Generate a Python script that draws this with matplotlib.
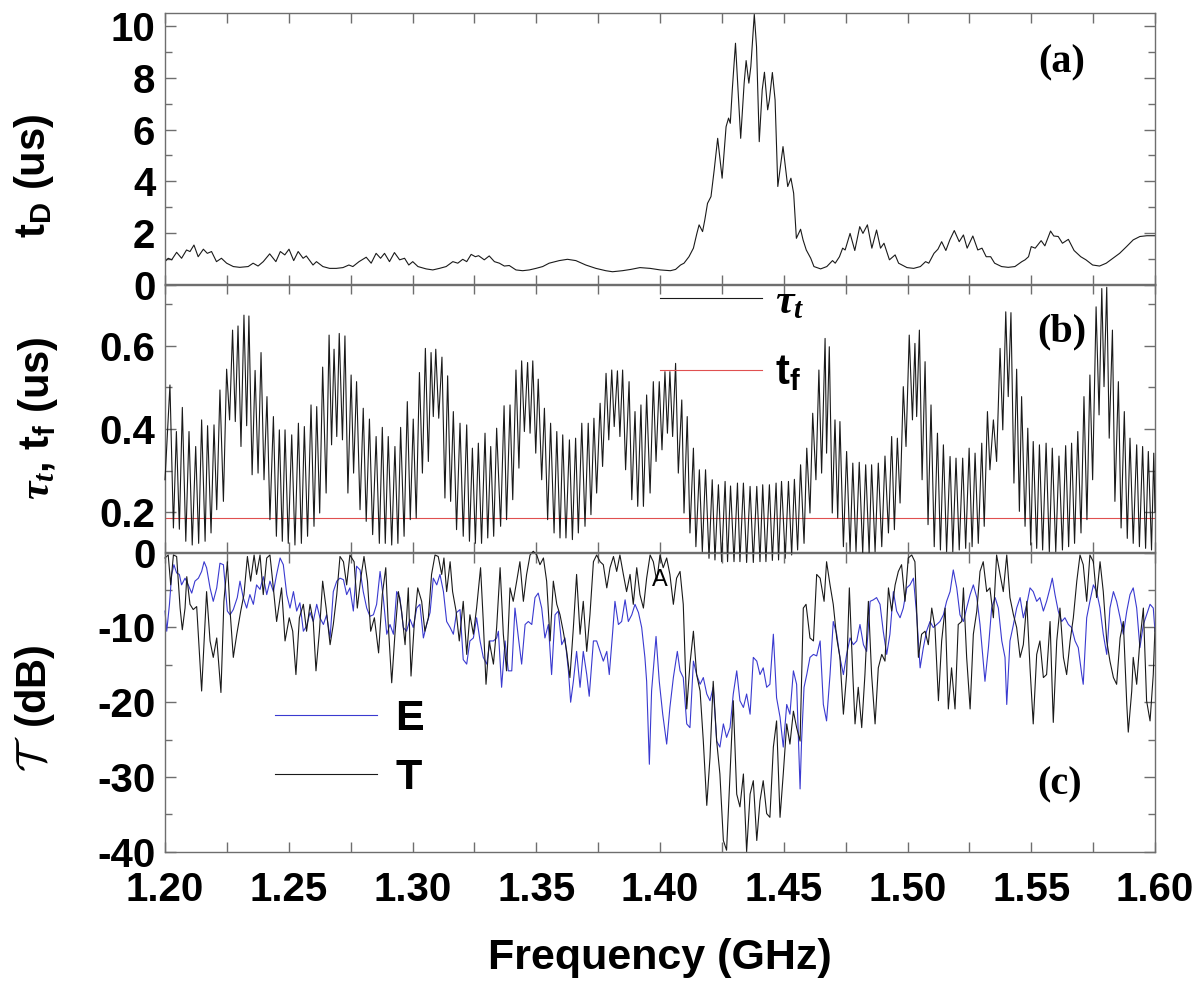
import matplotlib
matplotlib.use("Agg")
import matplotlib.pyplot as plt
from matplotlib.ticker import MultipleLocator, FixedLocator, FormatStrFormatter

# ---------------- data ----------------
freq_ticks = [1.20, 1.25, 1.30, 1.35, 1.40, 1.45, 1.50, 1.55, 1.60]

# panel (a): delay time t_D (us)
td_freq = [1.2000,1.2013,1.2027,1.2047,1.2067,1.2087,1.2101,1.2117,1.2134,1.2155,
    1.2171,1.2188,1.2208,1.2228,1.2249,1.2276,1.2302,1.2336,1.2356,1.2376,
    1.2397,1.2423,1.2448,1.2466,1.2484,1.2501,1.2520,1.2538,1.2558,1.2571,
    1.2598,1.2612,1.2638,1.2665,1.2692,1.2719,1.2743,1.2759,1.2784,1.2813,
    1.2833,1.2853,1.2871,1.2887,1.2907,1.2927,1.2948,1.2968,1.2985,1.3001,
    1.3022,1.3055,1.3082,1.3109,1.3136,1.3163,1.3183,1.3203,1.3219,1.3237,
    1.3254,1.3267,1.3290,1.3310,1.3331,1.3351,1.3371,1.3391,1.3418,1.3445,
    1.3472,1.3499,1.3526,1.3552,1.3593,1.3626,1.3660,1.3700,1.3741,1.3781,
    1.3808,1.3848,1.3882,
    1.3919,1.3960,1.4001,1.4042,1.4063,1.4083,1.4097,1.4117,1.4135,1.4149,
    1.4158,1.4172,1.4181,1.4192,1.4206,1.4219,1.4233,1.4251,1.4267,1.4277,
    1.4284,1.4292,1.4305,1.4326,1.4340,1.4348,1.4359,1.4367,1.4381,1.4390,
    1.4401,1.4413,1.4422,1.4435,1.4442,1.4454,1.4465,1.4476,1.4497,1.4516,
    1.4529,1.4540,1.4551,1.4568,1.4578,1.4591,1.4609,1.4622,1.4649,1.4674,
    1.4697,1.4708,1.4725,1.4738,1.4748,1.4768,1.4787,1.4807,1.4820,1.4838,
    1.4856,1.4875,1.4891,1.4905,1.4927,1.4950,1.4964,1.4998,1.5025,1.5052,
    1.5073,1.5086,1.5107,1.5123,1.5138,1.5155,1.5171,1.5189,1.5209,1.5226,
    1.5241,1.5264,1.5284,1.5301,1.5318,1.5336,1.5352,1.5380,1.5407,1.5434,
    1.5462,1.5475,1.5489,1.5500,1.5516,1.5540,1.5555,1.5578,1.5591,1.5609,
    1.5626,1.5650,1.5673,1.5700,1.5721,1.5748,1.5776,1.5803,1.5830,1.5857,
    1.5885,1.5912,1.5939,1.5967,1.5985,1.6000]
td_val = [0.90,1.03,0.97,1.26,1.03,1.35,1.29,1.54,1.09,1.38,
    1.22,1.29,0.90,1.03,0.84,0.71,0.68,0.71,0.84,0.73,
    0.90,1.20,0.90,1.29,1.16,1.38,0.94,1.29,1.03,1.12,
    0.77,0.90,0.71,0.64,0.64,0.67,0.77,0.71,0.90,1.07,
    0.84,1.22,1.03,1.22,0.90,1.25,0.97,1.03,0.77,0.90,
    0.71,0.62,0.58,0.64,0.71,0.90,0.84,0.99,0.90,1.18,
    1.09,1.13,0.97,1.12,0.90,0.84,0.73,0.75,0.58,0.55,
    0.58,0.64,0.71,0.84,0.94,0.99,0.94,0.77,0.64,0.55,
    0.51,0.55,0.60,
    0.67,0.64,0.58,0.55,0.60,0.77,0.84,1.09,1.42,1.99,
    2.32,2.06,2.51,3.15,3.41,4.44,5.66,4.12,6.11,6.44,
    6.24,7.53,9.33,5.66,7.79,8.66,7.79,8.43,10.45,9.20,
    5.53,7.53,8.21,6.76,7.14,8.20,7.14,3.80,5.34,3.80,
    4.12,3.54,1.80,2.15,1.74,1.35,1.03,0.71,0.62,0.71,
    0.94,0.84,1.09,1.42,1.35,1.99,1.33,2.25,1.99,2.32,
    1.42,2.12,1.42,1.61,0.97,1.16,0.84,0.67,0.64,0.71,
    0.90,0.84,1.22,1.38,1.67,1.33,1.74,2.10,1.67,1.93,
    1.42,1.89,1.35,1.42,1.09,1.09,0.84,0.71,0.68,0.71,
    0.90,0.97,1.09,1.48,1.42,1.71,1.51,2.08,1.89,1.87,
    1.61,1.76,1.33,1.09,0.97,0.77,0.73,0.84,1.03,1.22,
    1.48,1.74,1.87,1.90,1.90,1.90]

# panel (b): tau_t (us)
tau_freq = [1.2000,1.2020,1.2034,1.2046,1.2058,1.2070,1.2084,1.2097,1.2110,1.2124,
    1.2136,1.2148,1.2162,1.2172,1.2186,1.2198,1.2209,1.2222,1.2236,1.2249,
    1.2261,1.2273,1.2284,1.2295,1.2307,1.2319,1.2330,1.2339,1.2352,1.2364,
    1.2376,1.2388,1.2400,1.2412,1.2424,1.2438,1.2450,1.2462,1.2474,1.2485,
    1.2498,1.2512,1.2525,1.2539,1.2551,1.2563,1.2576,1.2590,1.2602,1.2613,
    1.2625,1.2637,1.2651,1.2663,1.2673,1.2683,1.2694,1.2704,1.2717,1.2727,
    1.2739,1.2752,1.2762,1.2774,1.2788,1.2801,1.2813,1.2826,1.2839,1.2853,
    1.2866,1.2878,1.2890,1.2902,1.2916,1.2929,1.2941,1.2952,1.2966,1.2979,
    1.2991,1.3003,1.3015,1.3028,1.3040,1.3052,1.3064,1.3075,1.3084,1.3094,
    1.3106,1.3119,1.3131,1.3142,1.3154,1.3165,1.3178,1.3192,1.3205,1.3219,
    1.3230,1.3242,1.3254,1.3266,1.3279,1.3293,1.3304,1.3316,1.3328,1.3340,
    1.3356,1.3370,1.3380,1.3394,1.3405,1.3418,1.3430,1.3441,1.3452,1.3465,
    1.3475,1.3486,1.3498,1.3508,1.3522,1.3533,1.3546,1.3558,1.3572,1.3583,
    1.3596,1.3607,1.3620,1.3634,1.3646,1.3659,1.3670,1.3684,1.3697,1.3710,
    1.3721,1.3733,1.3744,1.3758,1.3768,1.3782,1.3793,1.3805,1.3815,1.3828,
    1.3838,1.3849,1.3861,1.3875,1.3886,1.3899,1.3910,1.3923,1.3933,1.3946,
    1.3960,1.3973,1.3984,1.3997,1.4008,1.4020,1.4030,1.4040,1.4051,1.4063,
    1.4074,1.4088,1.4097,1.4110,1.4121,1.4135,1.4145,1.4159,1.4171,1.4184,
    1.4198,1.4211,1.4222,1.4236,1.4249,1.4263,1.4273,1.4285,1.4299,1.4313,
    1.4323,1.4337,1.4350,1.4364,1.4377,1.4391,1.4404,1.4415,1.4428,1.4442,
    1.4454,1.4469,1.4479,1.4491,1.4506,1.4519,1.4532,1.4543,1.4556,1.4568,
    1.4582,1.4593,1.4606,1.4617,1.4630,1.4642,1.4653,1.4667,
    1.4673,1.4684,1.4696,1.4707,1.4718,1.4727,1.4741,1.4754,1.4768,1.4779,
    1.4792,1.4805,1.4819,1.4831,1.4845,1.4855,1.4869,1.4882,1.4896,1.4909,
    1.4923,1.4936,1.4947,1.4959,1.4970,1.4983,1.4994,1.5007,1.5020,1.5030,
    1.5037,1.5048,1.5059,1.5071,1.5083,1.5095,1.5108,1.5121,1.5133,1.5145,
    1.5158,1.5172,1.5183,1.5196,1.5209,1.5223,1.5235,1.5249,1.5261,1.5273,
    1.5286,1.5300,1.5310,1.5323,1.5333,1.5347,1.5360,1.5374,1.5385,1.5397,
    1.5407,1.5418,1.5430,1.5441,1.5452,1.5461,1.5475,1.5486,1.5498,1.5508,
    1.5522,1.5533,1.5546,1.5560,1.5573,1.5585,1.5599,1.5612,1.5626,1.5639,
    1.5651,1.5663,1.5675,1.5688,1.5701,1.5713,1.5725,1.5737,1.5748,1.5762,
    1.5774,1.5785,1.5794,1.5805,1.5815,1.5828,1.5838,1.5852,1.5863,1.5876,
    1.5888,1.5899,1.5912,1.5926,1.5937,1.5950,1.5962,1.5973,1.5986,1.5995,
    1.6000]
tau_val = [0.278,0.506,0.162,0.394,0.159,0.452,0.130,0.394,0.121,0.358,
    0.125,0.422,0.130,0.408,0.150,0.410,0.206,0.494,0.226,0.544,
    0.422,0.638,0.418,0.648,0.358,0.674,0.408,0.672,0.290,0.541,
    0.294,0.584,0.278,0.478,0.182,0.430,0.142,0.398,0.130,0.398,
    0.125,0.386,0.121,0.414,0.125,0.406,0.142,0.458,0.166,0.454,
    0.198,0.549,0.246,0.626,0.362,0.592,0.382,0.630,0.374,0.624,
    0.246,0.530,0.294,0.514,0.206,0.450,0.178,0.424,0.146,0.382,
    0.125,0.404,0.125,0.382,0.121,0.358,0.125,0.404,0.142,0.466,
    0.182,0.424,0.186,0.536,0.294,0.594,0.322,0.584,0.430,0.592,
    0.426,0.573,0.234,0.528,0.226,0.442,0.158,0.414,0.142,0.410,
    0.130,0.354,0.125,0.366,0.125,0.390,0.138,0.358,0.142,0.402,
    0.166,0.456,0.182,0.458,0.230,0.542,0.306,0.564,0.394,0.560,
    0.390,0.564,0.342,0.520,0.278,0.450,0.182,0.414,0.150,0.394,
    0.138,0.386,0.138,0.374,0.134,0.378,0.150,0.414,0.166,0.414,
    0.194,0.426,0.246,0.462,0.310,0.534,0.374,0.542,0.406,0.540,
    0.382,0.542,0.302,0.514,0.230,0.442,0.214,0.458,0.214,0.482,
    0.246,0.514,0.322,0.514,0.350,0.538,0.390,0.538,0.382,0.558,
    0.294,0.470,0.198,0.430,0.150,0.354,0.117,0.302,0.105,0.302,
    0.089,0.278,0.085,0.266,0.081,0.274,0.081,0.263,0.081,0.270,
    0.081,0.270,0.079,0.262,0.079,0.262,0.081,0.266,0.081,0.266,
    0.084,0.270,0.085,0.274,0.089,0.274,0.097,0.279,0.109,0.314,
    0.125,0.354,0.198,0.438,0.278,0.542,0.294,0.618,
    0.342,0.598,0.198,0.422,0.186,0.418,0.117,0.346,0.105,0.318,
    0.105,0.320,0.101,0.314,0.101,0.314,0.105,0.318,0.117,0.335,
    0.150,0.382,0.158,0.378,0.222,0.502,0.358,0.626,0.422,0.606,
    0.430,0.638,0.278,0.562,0.170,0.458,0.117,0.390,0.109,0.362,
    0.105,0.334,0.105,0.330,0.109,0.330,0.113,0.354,0.117,0.342,
    0.125,0.366,0.166,0.442,0.302,0.422,0.322,0.594,0.398,0.682,
    0.478,0.680,0.270,0.544,0.202,0.478,0.166,0.402,0.121,0.370,
    0.113,0.362,0.109,0.366,0.105,0.354,0.105,0.335,0.109,0.360,
    0.117,0.366,0.125,0.394,0.150,0.478,0.182,0.530,0.278,0.694,
    0.434,0.738,0.502,0.741,0.378,0.638,0.226,0.514,0.162,0.442,
    0.137,0.378,0.125,0.362,0.117,0.358,0.113,0.346,0.109,0.342,
    0.200]

# panel (b): t_f (us), constant level
tf_freq = [1.20, 1.60]
tf_val = [0.187, 0.187]

# panel (c): transmission T (dB), black
T_freq = [1.2000,1.2013,1.2023,1.2034,1.2047,1.2061,1.2070,1.2081,1.2088,1.2101,
    1.2114,1.2128,1.2148,1.2168,1.2182,1.2195,1.2209,1.2226,1.2238,1.2252,
    1.2263,1.2276,1.2290,1.2306,1.2319,1.2333,1.2346,1.2360,1.2370,1.2384,
    1.2397,1.2411,1.2424,1.2435,1.2451,1.2471,1.2485,1.2502,1.2516,1.2529,
    1.2543,1.2559,1.2572,1.2586,1.2599,1.2610,1.2624,1.2637,1.2651,1.2667,
    1.2680,1.2694,1.2707,1.2721,1.2734,1.2747,1.2764,1.2777,1.2791,1.2804,
    1.2818,1.2831,1.2846,1.2863,1.2878,1.2892,1.2902,1.2916,1.2929,1.2943,
    1.2956,1.2970,1.2983,1.2994,1.3007,1.3021,1.3037,1.3050,1.3064,1.3077,
    1.3091,1.3104,1.3118,1.3127,1.3138,1.3152,1.3162,1.3176,1.3189,1.3205,
    1.3219,1.3232,1.3246,1.3259,1.3275,1.3286,1.3297,1.3310,
    1.3327,1.3340,1.3354,1.3367,1.3380,1.3394,1.3407,1.3421,1.3434,1.3448,
    1.3461,1.3475,1.3488,1.3502,1.3515,1.3529,1.3542,1.3556,1.3569,1.3583,
    1.3596,1.3609,1.3623,1.3636,1.3650,1.3663,1.3677,1.3690,1.3704,1.3717,
    1.3731,1.3744,1.3758,1.3771,1.3785,1.3798,1.3812,1.3825,1.3838,1.3852,
    1.3865,1.3879,1.3892,1.3906,1.3919,1.3933,1.3946,1.3960,1.3973,1.3987,
    1.4000,1.4013,1.4027,1.4040,1.4054,1.4067,1.4081,1.4094,1.4108,1.4121,
    1.4135,1.4148,1.4162,1.4175,1.4189,1.4202,1.4215,1.4229,1.4242,1.4256,
    1.4269,1.4283,1.4296,1.4310,1.4323,1.4337,1.4350,1.4364,1.4377,1.4391,
    1.4404,1.4417,1.4431,1.4444,1.4458,1.4471,1.4485,1.4498,1.4512,1.4525,
    1.4539,1.4552,1.4566,
    1.4579,1.4590,1.4606,1.4620,1.4633,1.4647,1.4663,1.4673,1.4687,1.4700,
    1.4714,1.4727,1.4741,1.4754,1.4765,1.4779,1.4788,1.4801,1.4815,1.4828,
    1.4842,1.4855,1.4869,1.4882,1.4896,1.4909,1.4923,1.4936,1.4950,1.4963,
    1.4976,1.4990,1.5003,1.5017,1.5030,1.5044,1.5057,1.5071,1.5084,1.5098,
    1.5111,1.5125,1.5138,1.5152,1.5165,1.5178,1.5192,1.5205,1.5219,1.5226,
    1.5239,1.5253,1.5266,1.5280,1.5293,1.5306,1.5320,1.5333,1.5347,1.5360,
    1.5374,1.5387,1.5401,1.5414,1.5428,1.5441,1.5455,1.5468,1.5482,1.5495,
    1.5508,1.5522,1.5535,1.5549,1.5562,1.5576,1.5589,1.5603,1.5616,1.5630,
    1.5643,1.5657,1.5670,1.5684,1.5697,1.5710,1.5724,1.5737,1.5751,1.5764,
    1.5778,1.5791,1.5805,1.5818,1.5832,1.5845,1.5859,1.5872,1.5886,1.5892,
    1.5906,1.5912,1.5926,1.5939,1.5953,1.5966,1.5980,1.5993,1.6000]
T_val = [-0.7,-0.3,-4.3,-0.3,-0.5,-7.4,-10.3,-7.4,-3.2,-6.9,
    -7.6,-7.2,-18.5,-5.2,-11.8,-14.0,-11.4,-18.7,-6.5,-1.2,
    -7.8,-14.0,-10.9,-7.8,-5.6,-0.5,-3.8,-0.3,-2.9,-0.3,
    -5.6,-0.7,-0.3,-3.8,-9.2,-4.7,-11.8,-8.7,-10.5,-16.3,
    -8.7,-6.9,-10.5,-6.9,-9.2,-15.8,-10.5,-3.8,-7.4,-12.3,
    -9.6,-5.6,-0.5,-1.2,-4.3,-0.3,-1.2,-7.4,-3.4,-0.5,
    -3.8,-10.5,-8.7,-13.4,-5.6,-2.0,-9.6,-17.4,-10.9,-5.2,
    -7.8,-12.3,-4.7,-16.5,-9.6,-4.7,-6.5,-10.5,-8.7,-2.9,
    -0.3,-0.5,-2.9,-0.7,-5.2,-1.2,-5.2,-7.8,-11.8,-6.5,
    -13.6,-8.3,-10.9,-7.4,-2.0,-9.2,-17.6,-11.8,
    -14.9,-10.0,-2.0,-10.9,-15.8,-4.7,-6.5,-3.8,-1.2,-6.5,
    -2.9,-0.3,0.2,-0.3,-1.6,-0.7,-3.8,-11.8,-3.8,-6.9,
    -8.3,-10.5,-13.2,-16.7,-10.0,-2.9,-10.9,-6.5,-13.2,-8.3,
    -1.2,-0.3,-1.2,-1.6,-4.7,-2.0,-0.5,-2.5,-0.3,-2.9,
    -5.2,-2.9,-6.9,-2.0,-5.6,-7.4,-3.4,-0.3,-1.2,-3.8,
    -0.3,-2.0,-0.7,-2.9,-6.9,-3.4,-2.5,-6.9,-20.9,-14.9,
    -10.5,-16.3,-18.5,-25.2,-33.8,-27.4,-17.2,-25.2,-29.6,-38.5,
    -39.8,-29.6,-19.8,-32.3,-34.0,-29.6,-40.0,-32.3,-30.5,-38.5,
    -33.2,-30.5,-34.9,-35.4,-26.0,-22.5,-35.4,-29.6,-22.9,-25.6,
    -21.2,-23.4,-25.2,
    -7.4,-6.9,-11.4,-11.8,-2.9,-3.4,-6.5,-1.2,-4.3,-6.9,
    -11.4,-14.0,-21.6,-16.3,-4.7,-16.3,-22.9,-18.0,-23.4,-16.3,
    -6.5,-16.3,-22.9,-15.4,-13.6,-14.5,-4.7,-7.8,-4.3,-2.5,
    -1.6,-6.5,-0.7,-0.3,-1.2,-14.0,-10.9,-10.5,-12.3,-7.4,
    -10.0,-19.8,-11.8,-7.4,-20.9,-15.4,-20.9,-9.6,-9.2,-4.7,
    -14.0,-20.9,-10.9,-7.8,-2.5,-1.2,-5.2,-4.7,-8.7,-0.3,
    -2.9,-5.2,-0.3,-6.0,-8.3,-10.0,-14.0,-12.3,-6.5,-15.4,
    -22.9,-13.6,-11.8,-16.7,-16.3,-9.2,-22.7,-11.8,-7.4,-14.0,
    -16.3,-11.8,-8.7,-3.8,-0.3,-1.6,-6.5,-0.3,-1.2,-6.0,
    -1.2,-5.2,-11.8,-14.5,-16.7,-17.6,-11.4,-9.2,-20.3,-24.0,
    -18.5,-14.0,-17.6,-11.8,-7.4,-19.8,-22.5,-16.3,-10.0]

# panel (c): E (dB), blue
E_freq = [1.2000,1.2007,1.2018,1.2027,1.2036,1.2047,1.2058,1.2067,1.2081,1.2094,
    1.2108,1.2121,1.2135,1.2148,1.2158,1.2168,1.2182,1.2195,1.2209,1.2222,
    1.2236,1.2252,1.2263,1.2276,1.2292,1.2303,1.2316,1.2330,1.2343,1.2357,
    1.2370,1.2384,1.2397,1.2411,1.2424,1.2438,1.2451,1.2465,1.2478,1.2492,
    1.2505,1.2519,1.2532,1.2545,1.2559,1.2572,1.2586,1.2599,1.2613,1.2626,
    1.2640,1.2653,1.2667,1.2680,1.2694,1.2707,1.2721,1.2734,1.2747,1.2761,
    1.2774,1.2788,1.2801,1.2815,1.2828,1.2842,1.2855,1.2869,1.2882,1.2896,
    1.2909,1.2923,1.2936,1.2949,1.2963,1.2976,1.2990,1.3003,1.3017,1.3030,
    1.3044,1.3057,1.3071,1.3084,1.3098,1.3111,1.3125,1.3138,1.3152,1.3165,
    1.3178,1.3192,1.3205,1.3219,1.3232,1.3246,1.3259,1.3273,1.3286,1.3300,
    1.3313,
    1.3327,1.3340,1.3347,1.3360,1.3374,1.3387,1.3401,1.3414,1.3428,1.3441,
    1.3455,1.3468,1.3482,1.3495,1.3508,1.3522,1.3535,1.3549,1.3562,1.3576,
    1.3589,1.3603,1.3616,1.3630,1.3639,1.3650,1.3663,1.3677,1.3690,1.3704,
    1.3714,1.3731,1.3744,1.3758,1.3771,1.3785,1.3795,1.3809,1.3818,1.3832,
    1.3845,1.3859,1.3872,1.3886,1.3899,1.3913,1.3926,1.3939,1.3946,1.3957,
    1.3966,1.3984,1.3997,1.4011,1.4027,1.4040,1.4054,1.4070,1.4081,1.4094,
    1.4108,1.4121,1.4135,1.4148,1.4162,1.4175,1.4189,1.4202,1.4215,1.4229,
    1.4242,1.4256,1.4269,1.4283,1.4296,1.4310,1.4323,1.4337,1.4350,1.4364,
    1.4377,1.4391,1.4404,1.4417,1.4431,1.4444,1.4458,1.4471,1.4485,1.4498,
    1.4512,1.4525,1.4539,1.4552,1.4566,
    1.4572,1.4582,1.4593,1.4606,1.4620,1.4633,1.4647,1.4660,1.4673,1.4687,
    1.4700,1.4714,1.4727,1.4741,1.4754,1.4768,1.4781,1.4795,1.4808,1.4822,
    1.4835,1.4849,1.4862,1.4875,1.4889,1.4902,1.4916,1.4929,1.4943,1.4956,
    1.4970,1.4983,1.4997,1.5010,1.5024,1.5037,1.5051,1.5064,1.5077,1.5091,
    1.5104,1.5118,1.5131,1.5145,1.5158,1.5172,1.5185,1.5199,1.5212,1.5226,
    1.5239,1.5253,1.5266,1.5280,1.5293,1.5306,1.5313,1.5327,1.5340,1.5354,
    1.5367,1.5381,1.5394,1.5401,1.5414,1.5428,1.5441,1.5455,1.5468,1.5482,
    1.5495,1.5508,1.5522,1.5535,1.5549,1.5562,1.5576,1.5585,1.5596,1.5609,
    1.5623,1.5636,1.5650,1.5663,1.5677,1.5690,1.5704,1.5710,1.5724,1.5737,
    1.5751,1.5764,1.5778,1.5791,1.5805,1.5818,1.5832,1.5845,1.5859,1.5872,
    1.5886,1.5899,1.5912,1.5926,1.5939,1.5953,1.5966,1.5980,1.5993,1.6000]
E_val = [-7.8,-10.5,-6.9,-2.9,-1.6,-2.7,-2.9,-4.3,-3.4,-4.3,
    -5.4,-3.8,-3.4,-2.5,-1.2,-2.0,-4.7,-6.5,-4.7,-1.4,
    -1.6,-7.8,-8.3,-7.6,-6.0,-3.8,-6.0,-7.4,-5.6,-6.9,
    -4.3,-4.9,-3.2,-5.6,-3.8,-5.2,-2.9,-0.7,-1.6,-5.6,
    -7.4,-5.2,-7.8,-6.7,-10.5,-9.8,-8.0,-9.2,-6.9,-8.7,
    -9.6,-8.3,-11.4,-5.2,-3.8,-3.4,-3.6,-5.6,-4.7,-7.8,
    -1.8,-2.3,-5.2,-7.4,-8.5,-8.3,-6.9,-2.5,-6.0,-10.9,
    -9.6,-10.9,-5.2,-6.0,-10.0,-10.5,-8.9,-10.0,-7.4,-6.9,
    -11.4,-9.6,-8.0,-3.4,-4.3,-2.9,-5.2,-9.2,-10.0,-10.9,
    -8.0,-7.6,-14.3,-14.9,-11.8,-11.4,-8.7,-11.8,-14.0,-14.9,
    -11.8,
    -11.8,-11.4,-10.5,-18.0,-11.8,-15.8,-15.8,-7.4,-11.4,-14.9,
    -9.6,-9.2,-9.6,-6.0,-5.4,-7.4,-11.4,-9.6,-16.3,-8.3,
    -7.8,-12.3,-11.4,-15.8,-20.0,-17.2,-13.2,-18.0,-13.2,-16.3,
    -19.2,-11.8,-11.8,-13.2,-14.5,-13.2,-16.3,-10.5,-6.5,-9.6,
    -9.2,-6.3,-9.2,-8.3,-6.9,-8.0,-10.0,-14.0,-17.2,-28.3,
    -18.5,-11.2,-17.2,-21.6,-25.6,-20.7,-16.7,-13.2,-15.8,-16.7,
    -22.9,-23.4,-14.5,-16.3,-17.6,-16.7,-18.9,-19.8,-18.0,-25.2,
    -26.0,-22.9,-24.7,-23.4,-18.9,-15.8,-19.8,-20.7,-18.9,-21.6,
    -14.0,-14.5,-16.3,-15.4,-18.0,-17.6,-10.9,-19.4,-22.0,-26.0,
    -20.3,-21.6,-15.8,-17.6,-31.6,
    -25.2,-18.0,-16.3,-14.0,-13.6,-13.8,-11.8,-20.3,-22.5,-16.3,
    -9.2,-10.9,-14.0,-16.3,-13.6,-11.4,-12.3,-11.8,-9.6,-12.3,
    -13.2,-6.5,-6.3,-6.0,-6.9,-10.5,-13.6,-10.9,-5.2,-7.8,
    -8.7,-7.4,-4.7,-4.3,-3.4,-8.3,-15.4,-12.7,-10.5,-9.2,
    -10.0,-9.6,-9.2,-8.3,-6.5,-5.2,-2.3,-4.7,-8.3,-9.2,
    -7.4,-5.6,-4.3,-6.0,-9.6,-14.5,-17.2,-12.7,-7.4,-6.0,
    -7.4,-11.8,-14.0,-20.3,-11.8,-9.6,-7.4,-6.0,-8.7,-6.9,
    -4.7,-5.2,-6.5,-6.0,-7.8,-6.5,-4.7,-3.4,-5.6,-7.8,
    -9.2,-8.7,-9.6,-10.0,-11.8,-12.7,-16.3,-17.6,-8.7,-6.5,
    -4.3,-5.2,-7.4,-10.9,-13.6,-7.4,-5.2,-6.5,-8.7,-10.9,
    -7.8,-5.6,-4.7,-7.4,-12.7,-9.6,-8.3,-6.9,-7.4,-10.5]

# ---------------- style ----------------
plt.rcParams.update({
    'font.family': ['Liberation Sans', 'DejaVu Sans'],
    'font.weight': 'bold',
    'axes.unicode_minus': False,
    'mathtext.fontset': 'custom',
    'mathtext.rm': 'Liberation Sans',
    'mathtext.bf': 'Liberation Sans:bold',
    'mathtext.it': 'Liberation Serif:italic',
    'mathtext.sf': 'Liberation Sans',
})

FRAME = '#6e6e6e'
RED = '#e05050'
BLUE = '#3a3ad0'
TICK_FS = 29
LAB_FS = 30

fig = plt.figure(figsize=(12, 9.86), dpi=100)
fig.patch.set_facecolor('white')
ax_a = fig.add_axes([0.1375, 0.7110, 0.825, 0.2759])
ax_b = fig.add_axes([0.1375, 0.4405, 0.825, 0.2715])
ax_c = fig.add_axes([0.1375, 0.1362, 0.825, 0.3032])


def style(ax):
    ax.set_facecolor('none')
    for s in ax.spines.values():
        s.set_color(FRAME)
        s.set_linewidth(1.0)
    ax.set_xlim(1.2, 1.6)
    ax.xaxis.set_major_locator(FixedLocator(freq_ticks))
    ax.xaxis.set_minor_locator(MultipleLocator(0.025))
    ax.tick_params(which='both', direction='in', top=True, right=True,
                   color=FRAME, width=1.0, labelsize=TICK_FS)
    ax.tick_params(axis='x', which='both', length=7, pad=14)
    ax.tick_params(axis='y', which='major', length=8, pad=7)
    ax.tick_params(axis='y', which='minor', length=5)


for ax in (ax_a, ax_b, ax_c):
    style(ax)

# panel a
ax_a.plot(td_freq, td_val, color='#1a1a1a', lw=0.8)
ax_a.set_ylim(0, 10.5)
ax_a.yaxis.set_major_locator(MultipleLocator(2))
ax_a.yaxis.set_minor_locator(MultipleLocator(1))
ax_a.tick_params(labelbottom=False)
ax_a.set_ylabel(r'$\mathbf{t_D}$ (us)', fontsize=LAB_FS, fontweight='bold')
ax_a.yaxis.set_label_coords(-0.110, 0.40)
ax_a.text(0.906, 0.816, '(a)', transform=ax_a.transAxes, family='Liberation Serif',
          fontweight='bold', fontsize=29, ha='center', va='center')

# panel b
ax_b.plot(tau_freq, tau_val, color='#1a1a1a', lw=0.8, clip_on=False, zorder=3,
          label=r'$\tau_t$')
ax_b.plot(tf_freq, tf_val, color=RED, lw=0.8, label=r'$\mathbf{t_f}$')
ax_b.set_ylim(0.105, 0.749)
ax_b.yaxis.set_major_locator(FixedLocator([0.2, 0.4, 0.6]))
ax_b.yaxis.set_minor_locator(FixedLocator([0.3, 0.5, 0.7]))
ax_b.yaxis.set_major_formatter(FormatStrFormatter('%.1f'))
ax_b.tick_params(labelbottom=False)
ax_b.set_ylabel(r'$\tau_t$, $\mathbf{t_f}$ (us)', fontsize=LAB_FS, fontweight='bold')
ax_b.yaxis.set_label_coords(-0.106, 0.5)
ax_b.legend(loc='center left', bbox_to_anchor=(0.5, 0.80), frameon=False,
            fontsize=30, handlelength=2.45, handletextpad=0.3, labelspacing=0.75,
            borderpad=0, borderaxespad=0)
ax_b.text(0.906, 0.821, '(b)', transform=ax_b.transAxes, family='Liberation Serif',
          fontweight='bold', fontsize=29, ha='center', va='center')

# panel c
ax_c.plot(E_freq, E_val, color=BLUE, lw=0.8, clip_on=False, label='E')
ax_c.plot(T_freq, T_val, color='#1a1a1a', lw=0.8, clip_on=False, label='T')
ax_c.set_ylim(-40, 0)
ax_c.yaxis.set_major_locator(MultipleLocator(10))
ax_c.yaxis.set_minor_locator(MultipleLocator(5))
ax_c.yaxis.set_major_formatter(FormatStrFormatter('%d'))
ax_c.xaxis.set_major_formatter(FormatStrFormatter('%.2f'))
ax_c.set_ylabel(r'$\mathcal{T}\;$ (dB)', fontsize=LAB_FS, fontweight='bold',
                math_fontfamily='cm')
ax_c.yaxis.set_label_coords(-0.109, 0.48)
ax_c.set_xlabel('Frequency (GHz)', fontsize=31, fontweight='bold', labelpad=21)
ax_c.legend(loc='center left', bbox_to_anchor=(0.111, 0.345), frameon=False,
            fontsize=31, handlelength=2.37, handletextpad=0.42, labelspacing=0.45,
            borderpad=0, borderaxespad=0)
ax_c.text(1.4, -3.7, 'A', fontsize=17, fontweight='normal', ha='center', va='center')
ax_c.text(0.904, 0.223, '(c)', transform=ax_c.transAxes, family='Liberation Serif',
          fontweight='bold', fontsize=29, ha='center', va='center')

fig.savefig('out.png', dpi=100)
